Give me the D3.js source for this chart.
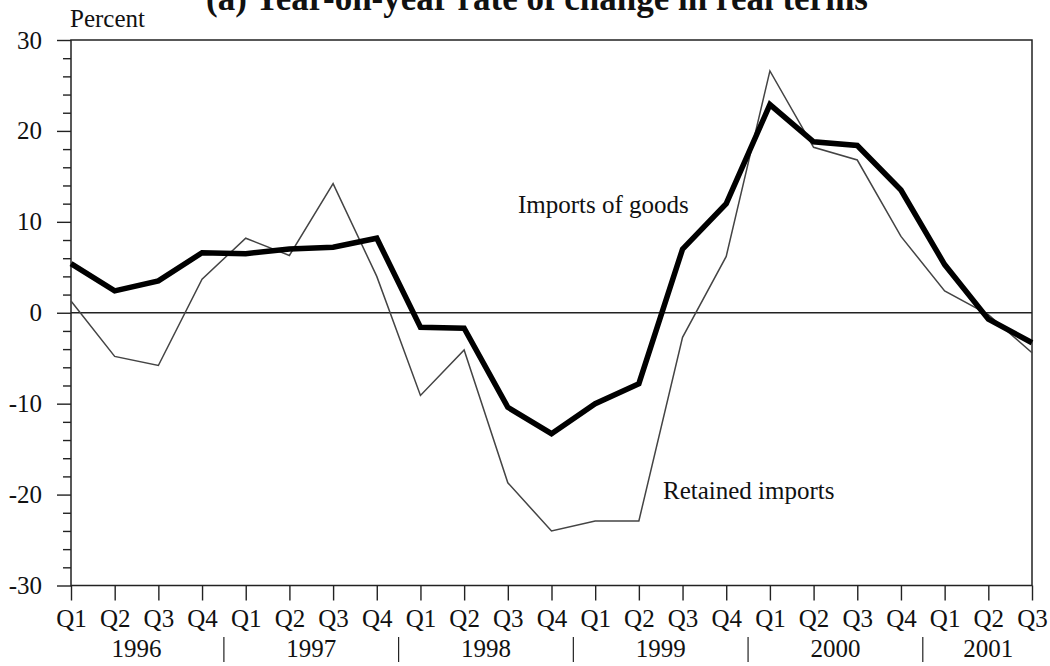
<!DOCTYPE html>
<html>
<head>
<meta charset="utf-8">
<script src="https://cdn.jsdelivr.net/npm/d3@7"></script>
<style>
  html, body { margin: 0; padding: 0; background: #fff; }
  svg { display: block; }
  text { font-family: "Liberation Serif", "Times New Roman", serif; fill: #111; }
</style>
</head>
<body>
<svg id="chart" width="1050" height="666"></svg>
<script>
// Quarterly periods, Q1 1996 – Q3 2001
const quarters = ["Q1","Q2","Q3","Q4","Q1","Q2","Q3","Q4","Q1","Q2","Q3","Q4",
                  "Q1","Q2","Q3","Q4","Q1","Q2","Q3","Q4","Q1","Q2","Q3"];
const years = ["1996","1997","1998","1999","2000","2001"];

// Year-on-year rate of change in real terms (percent)
const importsOfGoods = [5.4, 2.4, 3.5, 6.6, 6.5, 7.0, 7.2, 8.2,
                        -1.6, -1.7, -10.4, -13.3, -10.0, -7.8, 7.0, 12.0,
                        22.9, 18.8, 18.4, 13.5, 5.3, -0.7, -3.3];
const retainedImports = [1.3, -4.8, -5.8, 3.7, 8.2, 6.3, 14.2, 4.0,
                         -9.1, -4.1, -18.7, -24.0, -22.9, -22.9, -2.7, 6.2,
                         26.6, 18.2, 16.8, 8.4, 2.4, -0.2, -4.4];

const yMajorTicks = [-30, -20, -10, 0, 10, 20, 30];

const FONT = "'Liberation Serif', 'Times New Roman', serif";
const LABEL_SIZE = "25px";

const svg = d3.select("#chart");
const plotLeft = 71, plotRight = 1032, plotTop = 40, plotBottom = 585.5;

const x = d3.scaleLinear().domain([0, quarters.length - 1]).range([plotLeft, plotRight]);
const y = d3.scaleLinear().domain([-30, 30]).range([plotBottom, plotTop]);

// Title (runs off the top edge)
svg.append("text")
  .attr("x", 537).attr("y", 10)
  .attr("text-anchor", "middle")
  .style("font-size", "35px").style("font-weight", "bold")
  .text("(a)  Year-on-year rate of change in real terms");

svg.append("text")
  .attr("x", 70).attr("y", 27)
  .style("font-size", LABEL_SIZE)
  .text("Percent");

// Minor y ticks every 2 percent
const minorAxis = d3.axisLeft(y)
  .tickValues(d3.range(-30, 31, 2).filter(v => v % 10 !== 0))
  .tickSize(8).tickFormat("");
const gMinor = svg.append("g").attr("transform", `translate(${plotLeft},0)`).call(minorAxis);
gMinor.select(".domain").remove();
gMinor.selectAll("line").attr("stroke", "#222").attr("stroke-width", 1.4);

// Major y ticks with labels
const majorAxis = d3.axisLeft(y).tickValues(yMajorTicks).tickSize(14).tickPadding(15)
  .tickFormat(d3.format("d"));
const gMajor = svg.append("g").attr("transform", `translate(${plotLeft},0)`).call(majorAxis);
gMajor.select(".domain").remove();
gMajor.selectAll("line").attr("stroke", "#222").attr("stroke-width", 1.4);
gMajor.selectAll("text")
  .text(d => d < 0 ? "-" + Math.abs(d) : d)
  .style("font-size", LABEL_SIZE)
  .style("font-family", FONT)
  .attr("fill", "#111");

// X ticks at every quarter
const xAxis = d3.axisBottom(x).tickValues(d3.range(quarters.length))
  .tickSize(15).tickPadding(9).tickFormat(i => quarters[i]);
const gX = svg.append("g").attr("transform", `translate(0,${plotBottom})`).call(xAxis);
gX.select(".domain").remove();
gX.selectAll("line").attr("stroke", "#222").attr("stroke-width", 1.4);
gX.selectAll("text")
  .style("font-size", LABEL_SIZE)
  .style("font-family", FONT)
  .attr("fill", "#111");

// Year labels and separators
years.forEach((yr, k) => {
  const first = k * 4;
  const last = Math.min(first + 3, quarters.length - 1);
  const cx = (x(first) + x(last)) / 2;
  svg.append("text")
    .attr("x", cx).attr("y", 657)
    .attr("text-anchor", "middle")
    .style("font-size", LABEL_SIZE)
    .text(yr);
  if (k > 0) {
    const sx = x(first - 0.5);
    svg.append("line")
      .attr("x1", sx).attr("x2", sx).attr("y1", 637).attr("y2", 662)
      .attr("stroke", "#222").attr("stroke-width", 1.2);
  }
});

// Frame
svg.append("rect")
  .attr("x", plotLeft).attr("y", plotTop)
  .attr("width", plotRight - plotLeft).attr("height", plotBottom - plotTop)
  .attr("fill", "none").attr("stroke", "#222").attr("stroke-width", 1.5);

// Zero line
svg.append("line")
  .attr("x1", plotLeft).attr("x2", plotRight).attr("y1", y(0)).attr("y2", y(0))
  .attr("stroke", "#222").attr("stroke-width", 1.5);

const line = d3.line().x((d, i) => x(i)).y(d => y(d));

svg.append("path").datum(retainedImports)
  .attr("d", line)
  .attr("fill", "none").attr("stroke", "#444").attr("stroke-width", 1.5)
  .attr("stroke-linejoin", "miter");

svg.append("path").datum(importsOfGoods)
  .attr("d", line)
  .attr("fill", "none").attr("stroke", "#000").attr("stroke-width", 5.5)
  .attr("stroke-linejoin", "miter");

// Series labels
svg.append("text")
  .attr("x", 518).attr("y", 213)
  .style("font-size", LABEL_SIZE)
  .text("Imports of goods");

svg.append("text")
  .attr("x", 663).attr("y", 499)
  .style("font-size", LABEL_SIZE)
  .text("Retained imports");
</script>
</body>
</html>
